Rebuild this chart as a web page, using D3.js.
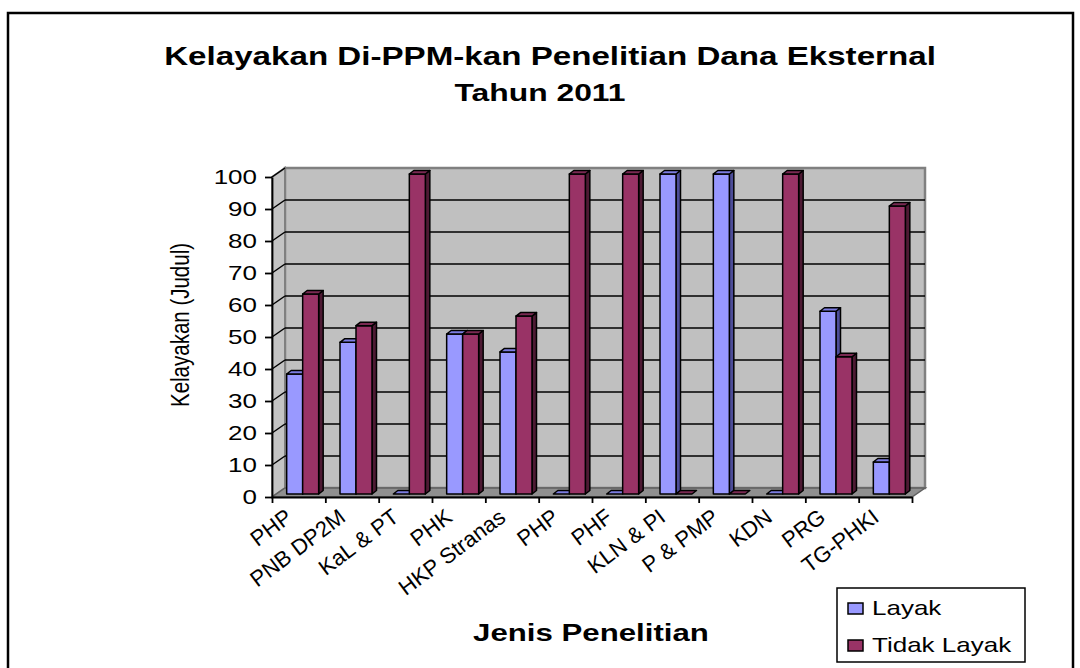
<!DOCTYPE html>
<html>
<head>
<meta charset="utf-8">
<script src="https://cdnjs.cloudflare.com/ajax/libs/d3/7.8.5/d3.min.js"></script>
<style>
  body { margin: 0; background: #fff; }
  text { font-family: Arial, "Liberation Sans", sans-serif; fill: #000; }
</style>
</head>
<body>
<div id="chart"></div>
<script>
// chart values
const categories = ['PHP', 'PNB DP2M', 'KaL & PT', 'PHK', 'HKP Stranas', 'PHP', 'PHF', 'KLN & PI', 'P & PMP', 'KDN', 'PRG', 'TG-PHKI'];
const seriesNames = ['Layak', 'Tidak Layak'];
const layak = [37.5, 47.4, 0, 50, 44.4, 0, 0, 100, 100, 0, 57.1, 10];
const tidakLayak = [62.5, 52.6, 100, 50, 55.6, 100, 100, 0, 0, 100, 42.9, 90];
const yTicks = [0, 10, 20, 30, 40, 50, 60, 70, 80, 90, 100];

const width = 1080;
const height = 668;
const stretch = 1.3; // the original picture is widened horizontally

const colors = {
  'Layak': { front: '#9999ff', top: '#7c7ce0', side: '#4d4d99' },
  'Tidak Layak': { front: '#993366', top: '#7a2952', side: '#4d1a33' }
};

// front plane of the 3d box
const plotLeft = 272, plotRight = 912, plotBottom = 497, plotTop = 177;
const DX = 13, DY = -9; // depth of the box
const BX = 4, BY = -3; // bars sit a bit into the box
const bdx = 4.5, bdy = -3.5; // depth of a bar

const svg = d3.select('#chart').append('svg').attr('width', width).attr('height', height);

svg.append('rect').attr('x', 8).attr('y', 13).attr('width', 1065).attr('height', 670)
  .style('fill', '#fff').style('stroke', '#000').style('stroke-width', 2.5);

const y = d3.scaleLinear().domain([0, 100]).range([plotBottom, plotTop]);
const x0 = d3.scaleBand().domain(d3.range(categories.length)).range([plotLeft, plotRight]).padding(0);
const bw = x0.bandwidth();
const x1 = d3.scaleBand().domain(seriesNames).range([bw * 0.2, bw * 0.8]).padding(0);
const xEdge = d3.scaleLinear().domain([0, categories.length]).range([plotLeft, plotRight]);

const pts = a => a.map(p => p.join(',')).join(' ');

// walls and floor
svg.append('polygon')
  .attr('points', pts([[plotLeft + DX, plotTop + DY], [plotRight + DX, plotTop + DY], [plotRight + DX, plotBottom + DY], [plotLeft + DX, plotBottom + DY]]))
  .style('fill', '#c0c0c0').style('stroke', '#808080').style('stroke-width', 2.5);
svg.append('polygon')
  .attr('points', pts([[plotLeft, plotTop], [plotLeft + DX, plotTop + DY], [plotLeft + DX, plotBottom + DY], [plotLeft, plotBottom]]))
  .style('fill', '#c4c4c4').style('stroke', '#808080').style('stroke-width', 2);
svg.append('polygon')
  .attr('points', pts([[plotLeft, plotBottom], [plotRight, plotBottom], [plotRight + DX, plotBottom + DY], [plotLeft + DX, plotBottom + DY]]))
  .style('fill', '#8f8f8f').style('stroke', '#606060').style('stroke-width', 1.5);

// gridlines
const grid = svg.append('g');
grid.selectAll('line.back')
  .data(yTicks.filter(d => d > 0 && d < 100))
  .enter().append('line')
  .attr('class', 'back')
  .attr('x1', plotLeft + DX).attr('x2', plotRight + DX)
  .attr('y1', d => y(d) + DY).attr('y2', d => y(d) + DY)
  .style('stroke', '#000').style('stroke-width', 1.5);
grid.selectAll('line.side')
  .data(yTicks.filter(d => d > 0))
  .enter().append('line')
  .attr('class', 'side')
  .attr('x1', plotLeft).attr('x2', plotLeft + DX)
  .attr('y1', d => y(d)).attr('y2', d => y(d) + DY)
  .style('stroke', '#000').style('stroke-width', 1.5);

// y axis
const yAxis = svg.append('g').attr('transform', `translate(${plotLeft},0)`)
  .call(d3.axisLeft(y).tickValues(yTicks).tickSize(7).tickSizeOuter(0));
yAxis.select('.domain').style('stroke', '#000').style('stroke-width', 1.8);
yAxis.selectAll('.tick line').style('stroke', '#000').style('stroke-width', 1.8);
yAxis.selectAll('.tick text')
  .attr('x', null)
  .attr('transform', `translate(-15,0) scale(${stretch},1)`)
  .style('font-size', '20px').style('font-family', 'Arial, "Liberation Sans", sans-serif');

// x axis
const xAxis = svg.append('g').attr('transform', `translate(0,${plotBottom})`)
  .call(d3.axisBottom(xEdge).tickValues(d3.range(categories.length + 1)).tickFormat('').tickSize(6).tickSizeOuter(0));
xAxis.select('.domain').style('stroke', '#000').style('stroke-width', 1.8);
xAxis.selectAll('.tick line').style('stroke', '#000').style('stroke-width', 1.8);

// category labels, slanted like the widened original
svg.append('g').selectAll('text')
  .data(categories)
  .enter().append('text')
  .attr('transform', (d, i) => `translate(${x0(i) + bw / 2 - 5},${plotBottom + 23}) rotate(-37)`)
  .attr('text-anchor', 'end')
  .style('font-size', '22px')
  .text(d => d);

// bars
const barData = [];
categories.forEach((c, i) => {
  barData.push({ i, s: 'Layak', v: layak[i] });
  barData.push({ i, s: 'Tidak Layak', v: tidakLayak[i] });
});

const bars = svg.append('g').selectAll('g')
  .data(barData)
  .enter().append('g');

bars.each(function (d) {
  const g = d3.select(this);
  const x = x0(d.i) + x1(d.s) + BX;
  const w = x1.bandwidth();
  const yt = y(d.v) + BY;
  const yb = y(0) + BY;
  const col = colors[d.s];
  if (d.v > 0) {
    g.append('polygon')
      .attr('points', pts([[x + w, yt], [x + w + bdx, yt + bdy], [x + w + bdx, yb + bdy], [x + w, yb]]))
      .style('fill', col.side);
    g.append('rect').attr('x', x).attr('y', yt).attr('width', w).attr('height', yb - yt)
      .style('fill', col.front);
  }
  g.append('polygon')
    .attr('points', pts([[x, yt], [x + bdx, yt + bdy], [x + w + bdx, yt + bdy], [x + w, yt]]))
    .style('fill', col.top);
  g.selectAll('*').style('stroke', '#000').style('stroke-width', 1.5).style('stroke-linejoin', 'round');
});

// titles
const hText = (x, yy, str, size, weight, anchor) =>
  svg.append('text')
    .attr('transform', `translate(${x},${yy}) scale(${stretch},1)`)
    .attr('text-anchor', anchor || 'middle')
    .style('font-size', size + 'px')
    .style('font-weight', weight || 'normal')
    .text(str);

hText(550, 65, 'Kelayakan Di-PPM-kan Penelitian Dana Eksternal', 25.5, 'bold');
hText(540, 101, 'Tahun 2011', 24.5, 'bold');
hText(591, 641, 'Jenis Penelitian', 24, 'bold');

svg.append('text')
  .attr('transform', `translate(189,325) rotate(-90) scale(1,${stretch})`)
  .attr('text-anchor', 'middle')
  .style('font-size', '20.5px')
  .text('Kelayakan (Judul)');

// legend
const legend = svg.append('g');
legend.append('rect').attr('x', 837).attr('y', 588).attr('width', 188).attr('height', 74)
  .style('fill', '#fff').style('stroke', '#000').style('stroke-width', 1.5);
seriesNames.forEach((s, k) => {
  const ly = 603 + k * 37;
  legend.append('rect').attr('x', 848).attr('y', ly).attr('width', 15).attr('height', 11)
    .style('fill', colors[s].front).style('stroke', '#000').style('stroke-width', 1.5);
  hText(872, ly + 12, s, 20, 'normal', 'start');
});
</script>
</body>
</html>
